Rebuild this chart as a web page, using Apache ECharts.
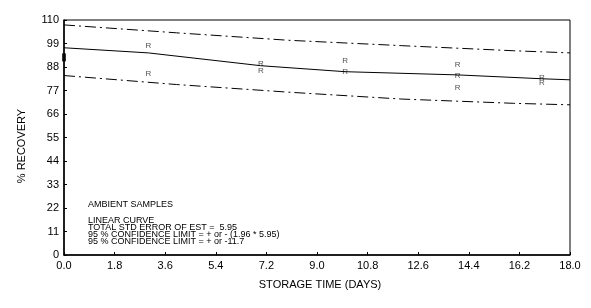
<!DOCTYPE html>
<html><head><meta charset="utf-8">
<script src="https://cdn.jsdelivr.net/npm/echarts@6/dist/echarts.min.js"></script>
<style>html,body{margin:0;padding:0;background:#fff}#c{width:591px;height:308px}</style>
</head><body><div id="c"></div>
<script>
// Data
const xTicks = [0, 1.8, 3.6, 5.4, 7.2, 9.0, 10.8, 12.6, 14.4, 16.2, 18.0];
const yTicks = [0, 11, 22, 33, 44, 55, 66, 77, 88, 99, 110];
const fitDays = [0, 3, 7, 10, 14, 17, 18];
const fitValues = [97.0, 94.6, 88.6, 85.8, 84.3, 82.5, 82.0];
const limitDays = [0, 4, 8, 12, 16, 18];
const upperValues = [107.7, 104.0, 100.5, 98.0, 95.6, 94.6];
const lowerValues = [84.0, 79.8, 76.2, 73.0, 71.0, 70.3];
const sampleDays = [3, 3, 7, 7, 10, 10, 14, 14, 14, 17, 17];
const sampleValues = [98.0, 85.0, 89.6, 86.0, 91.0, 85.6, 89.2, 84.0, 78.4, 82.8, 80.6];
const axisMarkDay = [0];
const axisMarkValue = [92.5];
const noteLines = [
  'LINEAR CURVE',
  'TOTAL STD ERROR OF EST =  5.95',
  '95 % CONFIDENCE LIMIT = + or - (1.96 * 5.95)',
  '95 % CONFIDENCE LIMIT = + or -11.7'
];
const title = 'AMBIENT SAMPLES';
const xName = 'STORAGE TIME (DAYS)';
const yName = '% RECOVERY';

const FONT = '"Liberation Sans", Arial, sans-serif';
const pairs = (xs, ys) => xs.map((x, i) => [x, ys[i]]);
const chart = echarts.init(document.getElementById('c'));
chart.setOption({
  animation: false,
  grid: {left: 64, right: 21, top: 20, bottom: 53, show: true, borderColor: '#000', borderWidth: 1},
  xAxis: {
    type: 'value', min: 0, max: 18, interval: 1.8,
    name: xName, nameLocation: 'middle', nameGap: 24,
    nameTextStyle: {fontFamily: FONT, fontSize: 11, color: '#000', padding: [0, 0, 0, 6]},
    axisLine: {lineStyle: {color: '#000', width: 1.5}},
    axisTick: {inside: true, length: 3, lineStyle: {color: '#000'}},
    axisLabel: {fontFamily: FONT, fontSize: 11, color: '#000', margin: 5,
      formatter: v => v.toFixed(1)},
    splitLine: {show: false}
  },
  yAxis: {
    type: 'value', min: 0, max: 110, interval: 11,
    axisLine: {lineStyle: {color: '#000', width: 1.5}},
    axisTick: {inside: true, length: 3, lineStyle: {color: '#000'}},
    axisLabel: {fontFamily: FONT, fontSize: 11, color: '#000', margin: 5},
    splitLine: {show: false}
  },
  series: [
    {type: 'line', data: pairs(fitDays, fitValues), symbol: 'none',
      lineStyle: {color: '#000', width: 1}},
    {type: 'line', data: pairs(limitDays, upperValues), symbol: 'none',
      lineStyle: {color: '#000', width: 1, type: [11, 4, 2, 4]}},
    {type: 'line', data: pairs(limitDays, lowerValues), symbol: 'none',
      lineStyle: {color: '#000', width: 1, type: [11, 4, 2, 4]}},
    {type: 'scatter', data: pairs(sampleDays, sampleValues), symbol: 'rect', symbolSize: 1,
      itemStyle: {color: 'rgba(0,0,0,0)'},
      label: {show: true, position: 'inside', formatter: 'R', fontFamily: FONT, fontSize: 8, color: '#222'}},
    {type: 'scatter', data: pairs(axisMarkDay, axisMarkValue), symbol: 'rect', symbolSize: [4, 8],
      itemStyle: {color: '#000'}}
  ],
  graphic: [
    {type: 'text', x: 22, y: 146, rotation: Math.PI / 2,
      style: {text: yName, font: '11px ' + FONT, fill: '#000', textAlign: 'center', textVerticalAlign: 'middle'}},
    {type: 'text', left: 88, top: 200, style: {text: title, font: '9px ' + FONT, fill: '#000'}},
    {type: 'text', left: 88, top: 216, style: {text: noteLines.join('\n'), font: '9px ' + FONT, lineHeight: 7, fill: '#000'}}
  ]
});
</script></body></html>
